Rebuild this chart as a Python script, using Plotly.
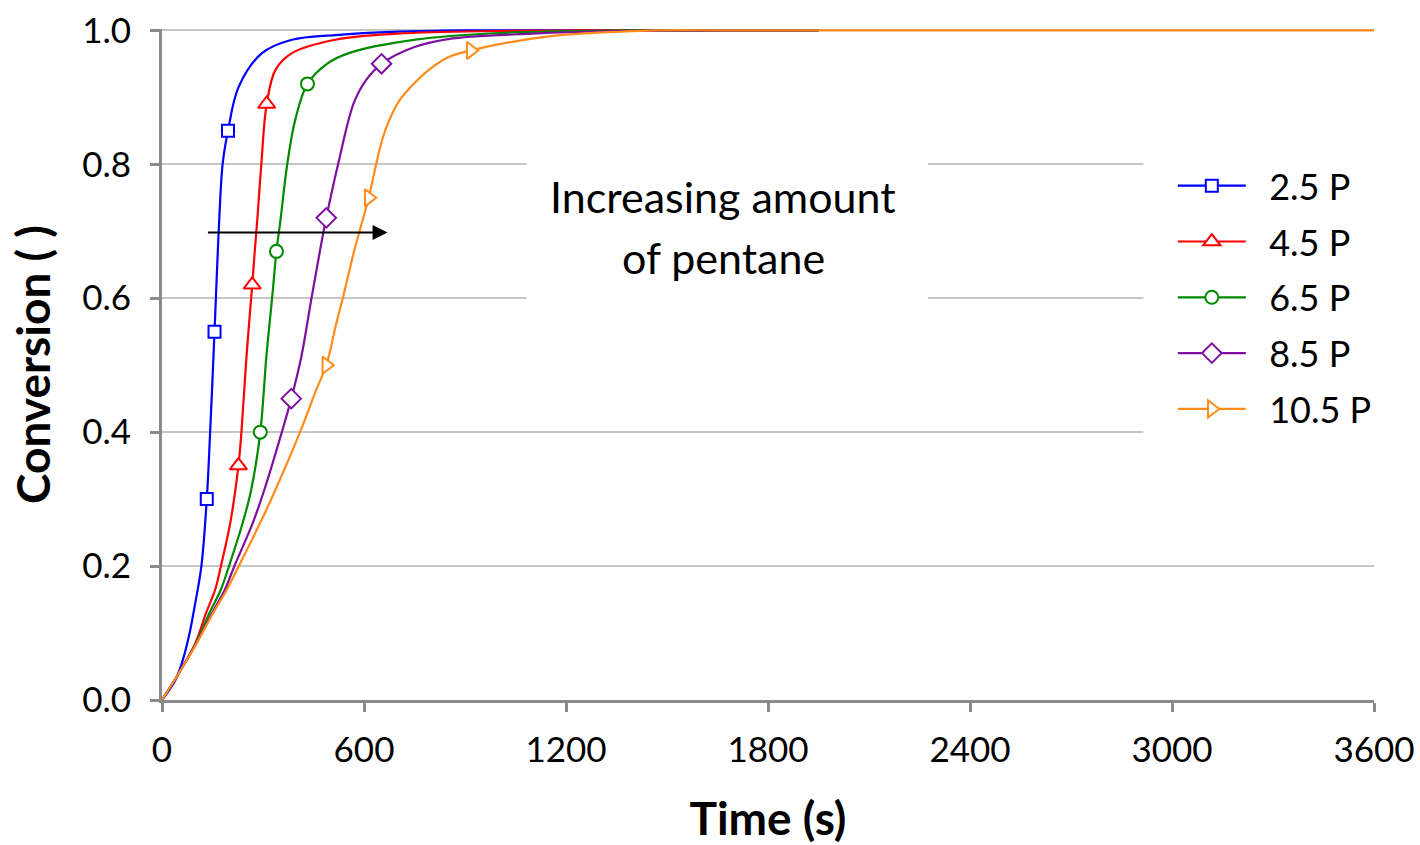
import plotly.graph_objects as go

# ---- data ----
series_names = ["2.5 P", "4.5 P", "6.5 P", "8.5 P", "10.5 P"]
series_colors = ["#0000ff", "#ff0000", "#008a00", "#7f0f9f", "#ff8c1a"]
series_symbols = ["square", "triangle-up", "circle", "diamond", "triangle-right"]
series_msize = [12, 15, 13, 15, 15]

t_25 = [0, 40, 62, 82, 97, 117, 133, 143, 156, 160, 166, 170, 180, 196, 228, 297, 386, 515, 700, 900, 1950]
c_25 = [0, 0.03, 0.06, 0.10, 0.14, 0.20, 0.30, 0.40, 0.55, 0.60, 0.673, 0.717, 0.80, 0.85, 0.916, 0.966, 0.986, 0.993, 0.998, 1.0, 1.0]

t_45 = [0, 50, 99, 131, 158, 175, 203, 227, 236, 251, 268, 276, 283, 295, 311, 337, 386, 515, 700, 1000, 1300, 1950]
c_45 = [0, 0.04, 0.085, 0.13, 0.165, 0.20, 0.265, 0.35, 0.40, 0.513, 0.62, 0.673, 0.717, 0.80, 0.89, 0.941, 0.966, 0.986, 0.995, 0.999, 1.0, 1.0]

t_65 = [0, 50, 99, 141, 175, 199, 240, 265, 292, 310, 327, 340, 352, 372, 396, 432, 490, 555, 753, 1000, 1400, 1950]
c_65 = [0, 0.04, 0.083, 0.13, 0.165, 0.20, 0.265, 0.314, 0.40, 0.513, 0.60, 0.67, 0.717, 0.80, 0.867, 0.92, 0.95, 0.966, 0.986, 0.996, 1.0, 1.0]

t_85 = [0, 50, 99, 149, 187, 215, 270, 304, 356, 384, 414, 444, 470, 488, 523, 570, 605, 652, 750, 850, 1100, 1350, 1600, 1950]
c_85 = [0, 0.04, 0.082, 0.13, 0.165, 0.20, 0.265, 0.314, 0.40, 0.45, 0.513, 0.60, 0.673, 0.72, 0.80, 0.892, 0.925, 0.95, 0.975, 0.987, 0.995, 0.999, 1.0, 1.0]

t_105 = [0, 50, 99, 152, 193, 228, 292, 337, 410, 458, 488, 518, 537, 572, 614, 636, 656, 676, 705, 740, 790, 850, 917, 1149, 1446, 1700, 3600]
c_105 = [0, 0.04, 0.081, 0.13, 0.165, 0.20, 0.265, 0.314, 0.40, 0.463, 0.50, 0.563, 0.60, 0.673, 0.75, 0.80, 0.84, 0.867, 0.895, 0.916, 0.94, 0.96, 0.97, 0.991, 0.9996, 1.0, 1.0]

mk_t = [[133, 156, 196], [227, 268, 311], [292, 340, 432], [384, 488, 652], [488, 614, 917]]
mk_c = [[0.30, 0.55, 0.85], [0.35, 0.62, 0.89], [0.40, 0.67, 0.92], [0.45, 0.72, 0.95], [0.50, 0.75, 0.97]]

curve_t = [t_25, t_45, t_65, t_85, t_105]
curve_c = [c_25, c_45, c_65, c_85, c_105]

x_ticks = [0, 600, 1200, 1800, 2400, 3000, 3600]
y_ticks = [0.0, 0.2, 0.4, 0.6, 0.8, 1.0]
y_ticklabels = ["0.0", "0.2", "0.4", "0.6", "0.8", "1.0"]

annot_lines = ["Increasing amount", "of pentane"]
x_title = "Time (s)"
y_title = "Conversion ( )"

FONT = "Lato, 'Open Sans', sans-serif"
AXIS_GRAY = "#8a8a8a"

fig = go.Figure()

for i in range(5):
    fig.add_trace(go.Scatter(
        x=curve_t[i], y=curve_c[i], mode="lines",
        line=dict(color=series_colors[i], width=2.2, shape="spline", smoothing=1.0),
        showlegend=False, legendgroup=series_names[i], hoverinfo="skip"))

for i in range(5):
    fig.add_trace(go.Scatter(
        x=mk_t[i], y=mk_c[i], mode="markers",
        marker=dict(symbol=series_symbols[i], size=series_msize[i], color="white",
                    line=dict(color=series_colors[i], width=2)),
        showlegend=False, legendgroup=series_names[i], cliponaxis=False))

for i in range(5):
    fig.add_trace(go.Scatter(
        x=[None], y=[None], mode="lines+markers",
        name="&nbsp;&nbsp;" + series_names[i],
        line=dict(color=series_colors[i], width=2.2),
        marker=dict(symbol=series_symbols[i], size=series_msize[i], color="white",
                    line=dict(color=series_colors[i], width=2)),
        legendgroup=series_names[i]))

# white boxes behind the annotation text and the legend (they hide the gridlines)
fig.add_shape(type="rect", xref="x", yref="y", x0=1083, x1=2275, y0=0.583, y1=0.822,
              fillcolor="white", line=dict(width=0), layer="between")
fig.add_shape(type="rect", xref="x", yref="y", x0=2915, x1=3600, y0=0.378, y1=0.822,
              fillcolor="white", line=dict(width=0), layer="between")

fig.add_annotation(x=1665, y=0.752, xref="x", yref="y", text=annot_lines[0], showarrow=False,
                   font=dict(family=FONT, size=43, color="black"))
fig.add_annotation(x=1668, y=0.661, xref="x", yref="y", text=annot_lines[1], showarrow=False,
                   font=dict(family=FONT, size=43, color="black"))

fig.add_annotation(x=670, y=0.698, ax=132, ay=0.698, xref="x", yref="y", axref="x", ayref="y",
                   text="", showarrow=True, arrowhead=2, arrowsize=1.5, arrowwidth=2,
                   arrowcolor="black")

fig.update_layout(
    width=1420, height=845,
    margin=dict(l=162, r=46, t=29, b=145, autoexpand=False),
    paper_bgcolor="white", plot_bgcolor="white",
    font=dict(family=FONT, color="black"),
    legend=dict(x=0.834, y=0.811, xanchor="left", yanchor="top",
                bgcolor="rgba(0,0,0,0)", font=dict(family=FONT, size=36, color="black"),
                tracegroupgap=6, itemwidth=68),
)

fig.update_xaxes(
    range=[0, 3600], tickmode="array", tickvals=x_ticks, automargin=False,
    showline=True, linecolor=AXIS_GRAY, linewidth=3,
    ticks="outside", ticklen=9, tickwidth=3, tickcolor=AXIS_GRAY,
    showgrid=False, zeroline=False,
    tickfont=dict(family=FONT, size=35, color="black"), ticklabelstandoff=8,
    title=dict(text=x_title, font=dict(family=FONT, size=46, color="black", weight="bold"), standoff=38),
)
fig.update_yaxes(
    range=[0, 1.002], tickmode="array", tickvals=y_ticks, ticktext=y_ticklabels, automargin=False,
    showline=True, linecolor=AXIS_GRAY, linewidth=3,
    ticks="outside", ticklen=9, tickwidth=3, tickcolor=AXIS_GRAY,
    showgrid=True, gridcolor="#c6c6c6", gridwidth=2, zeroline=False,
    tickfont=dict(family=FONT, size=35, color="black"), ticklabelstandoff=12,
    title=dict(text=y_title, font=dict(family=FONT, size=46, color="black", weight="bold"), standoff=18),
)

fig.write_html("out.html")
